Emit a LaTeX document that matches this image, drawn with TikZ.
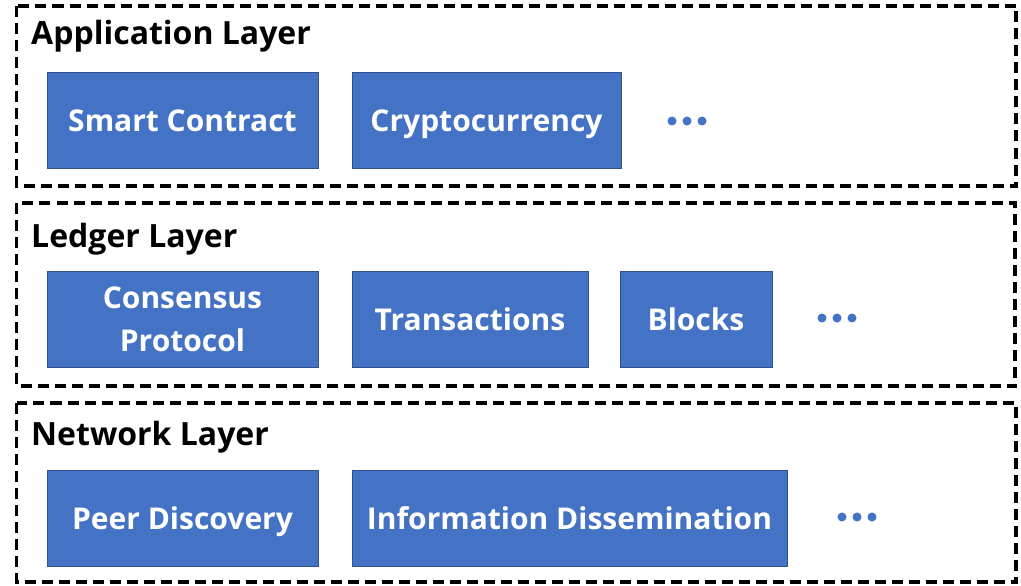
\documentclass[tikz,border=0pt]{standalone}
\usepackage{fontspec}
\setmainfont{Open Sans}
\definecolor{boxblue}{HTML}{4472C4}
\definecolor{boxedge}{HTML}{2F528F}
\begin{document}
\begin{tikzpicture}[x=1pt,y=-1pt,
  layer/.style={draw=black, line width=3.3pt, dash pattern=on 11pt off 6pt},
  layerlabel/.style={anchor=base west, inner sep=0pt, font=\fontsize{32}{38}\selectfont\bfseries},
  itembase/.style={draw=boxedge, line width=0.8pt, fill=boxblue, text=white, align=center, inner sep=0pt,
    font=\fontsize{30}{43}\selectfont\bfseries, minimum height=96pt},
  item/.style={itembase, text height=23pt, text depth=0pt},
  dot/.style={circle, fill=boxblue, inner sep=0pt, minimum size=9pt}]
\useasboundingbox (0,0) rectangle (1021,586);
\fill[white] (0,0) rectangle (1021,586);
% layers
\draw[layer] (16.5,6) rectangle (1016,186);
\draw[layer] (16.5,203) rectangle (1015,386);
\draw[layer] (16.5,403) rectangle (1016,582);
\node[layerlabel] (lapp) at (31,45) {Application Layer};
\node[layerlabel] (lled) at (31,247) {Ledger Layer};
\node[layerlabel] (lnet) at (31,445) {Network Layer};
% application
\node[item, minimum width=271pt] (sc) at (182.5,120) {Smart Contract};
\node[item, minimum width=269pt] (cc) at (486.5,120) {Cryptocurrency};
\node[dot] (a1) at (672,121) {};
\node[dot] (a2) at (687,121) {};
\node[dot] (a3) at (702,121) {};
% ledger
\node[itembase, minimum width=271pt] (cp) at (182.5,319) {Consensus\\Protocol};
\node[item, minimum width=236pt] (tx) at (470,319) {Transactions};
\node[item, minimum width=152pt] (bl) at (696,319) {Blocks};
\node[dot] (b1) at (822,318) {};
\node[dot] (b2) at (837,318) {};
\node[dot] (b3) at (852,318) {};
% network
\node[item, minimum width=271pt] (pd) at (182.5,518) {Peer Discovery};
\node[item, minimum width=435pt] (id) at (569.5,518) {Information Dissemination};
\node[dot] (c1) at (842,517) {};
\node[dot] (c2) at (857,517) {};
\node[dot] (c3) at (872,517) {};
\end{tikzpicture}
\end{document}
